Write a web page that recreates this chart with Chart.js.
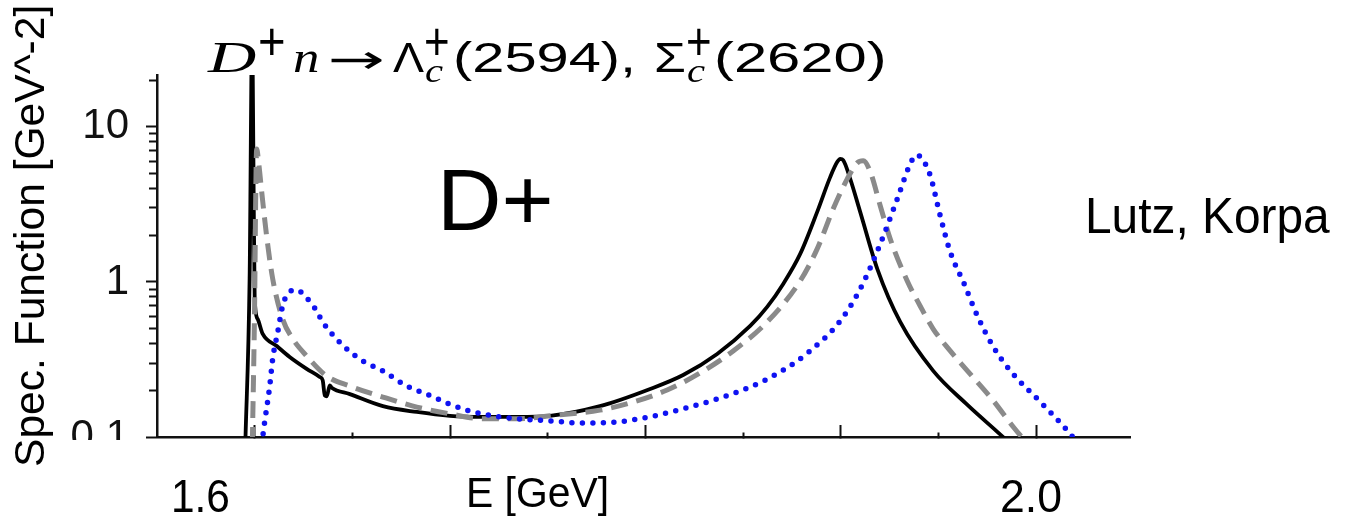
<!DOCTYPE html>
<html><head><meta charset="utf-8">
<script src="https://cdn.jsdelivr.net/npm/chart.js@4"></script>
<style>
html,body{margin:0;padding:0;background:#fff;}
#wrap{position:relative;width:1347px;height:516px;overflow:hidden;background:#fff;}
canvas{position:absolute;left:0;top:0;}
.t{position:absolute;white-space:nowrap;color:#000;font-family:"Liberation Sans",Arial,sans-serif;line-height:1;transform-origin:0 0;}
.mi{font-family:"Liberation Serif","Times New Roman",serif;font-style:italic;}
.ar{font-family:"DejaVu Sans",sans-serif;}
#cover{position:absolute;left:58px;top:440px;width:95px;height:40px;background:#fff;}
</style></head>
<body><div id="wrap"><canvas id="c" width="1347" height="516"></canvas>
<div id="cover"></div>
<div class="t" id="ytitle" style="font-size:42px;">Spec. Function [GeV^-2]</div>
<!-- title: D^+ n -> Lambda_c^+(2594), Sigma_c^+(2620) -->
<span class="t mi" id="tD" style="font-size:45px;">D</span>
<span class="t" id="tP1" style="font-size:54px;">+</span>
<span class="t mi" id="tN" style="font-size:45px;">n</span>
<span class="t ar" id="tAr" style="font-size:40px;">→</span>
<span class="t" id="tL" style="font-size:42px;">Λ</span>
<span class="t" id="tP2" style="font-size:54px;">+</span>
<span class="t mi" id="tC1" style="font-size:34px;">c</span>
<span class="t" id="tM1" style="font-size:42px;">(2594),</span>
<span class="t" id="tS" style="font-size:42px;">Σ</span>
<span class="t" id="tP3" style="font-size:54px;">+</span>
<span class="t mi" id="tC2" style="font-size:34px;">c</span>
<span class="t" id="tM2" style="font-size:42px;">(2620)</span>
<div class="t" id="dplus" style="font-size:87px;">D+</div>
<div class="t" id="authors" style="font-size:50px;">Lutz, Korpa</div>
<div class="t" id="xtitle" style="font-size:42px;">E [GeV]</div>
<div class="t" id="xl16" style="font-size:46px;">1.6</div>
<div class="t" id="xl20" style="font-size:46px;">2.0</div>
</div>
<script>
// ---- data (E in GeV, spectral function in GeV^-2) ----
const E_SOLID = [1.5952,1.5974,1.5987,1.5990,1.5995,1.6000,1.6015,1.6041,1.6113,1.6179,1.6266,1.6333,1.6348,1.6359,1.6369,1.6384,1.6394,1.6487,1.6656,1.6830,1.6999,1.7168,1.7342,1.7511,1.7767,1.8024,1.8193,1.8367,1.8536,1.8623,1.8705,1.8792,1.8879,1.8946,1.8982,1.8997,1.9012,1.9048,1.9099,1.9187,1.9304,1.9473,1.9648,1.9801,2.0000];
const A_SOLID = [0.09,1.05,40,22,3.4,0.78,0.577,0.462,0.386,0.328,0.275,0.244,0.232,0.185,0.183,0.215,0.208,0.189,0.158,0.145,0.137,0.135,0.135,0.137,0.158,0.204,0.251,0.343,0.520,0.690,0.971,1.516,2.83,4.76,5.95,6.22,6.1,4.62,2.83,1.21,0.552,0.267,0.161,0.108,0.064];

const E_DASH = [1.5988,1.6000,1.6005,1.6010,1.6021,1.6036,1.6061,1.6092,1.6143,1.6195,1.6266,1.6369,1.6487,1.6656,1.6830,1.6999,1.7168,1.7342,1.7511,1.7767,1.7936,1.8111,1.8280,1.8449,1.8623,1.8792,1.8879,1.8961,1.9033,1.9084,1.9115,1.9151,1.9202,1.9253,1.9340,1.9406,1.9473,1.9560,1.9648,1.9781,1.9883,2.0100];
const A_DASH = [0.09,0.78,3.4,7.2,5.77,3.8,1.98,1.05,0.577,0.429,0.333,0.247,0.213,0.181,0.156,0.141,0.131,0.131,0.137,0.149,0.168,0.201,0.259,0.359,0.552,1.015,1.633,2.96,4.62,5.86,6.04,5.12,3.09,1.89,1.015,0.700,0.497,0.359,0.267,0.171,0.116,0.056];

const E_DOT = [1.6036,1.6041,1.6051,1.6077,1.6092,1.6118,1.6143,1.6169,1.6215,1.6266,1.6307,1.6348,1.6400,1.6471,1.6553,1.6656,1.6779,1.6881,1.6999,1.7100,1.7218,1.7342,1.7511,1.7680,1.7854,1.8024,1.8193,1.8367,1.8536,1.8690,1.8843,1.8997,1.9099,1.9202,1.9289,1.9355,1.9386,1.9417,1.9458,1.9509,1.9560,1.9627,1.9699,1.9781,1.9868,2.0032,2.0165,2.0300];
const A_DOT = [0.09,0.1,0.125,0.213,0.318,0.476,0.700,0.837,0.888,0.788,0.680,0.552,0.455,0.370,0.309,0.267,0.213,0.189,0.163,0.147,0.137,0.131,0.127,0.123,0.125,0.135,0.152,0.176,0.210,0.263,0.359,0.560,0.90,1.76,3.43,5.77,6.6,6.22,4.83,2.66,1.56,1.0,0.604,0.381,0.267,0.163,0.108,0.066];

const X_TICKS = [1.60,1.65,1.70,1.75,1.80,1.85,1.90,1.95,2.00];
const X_MAJOR = [1.60,1.70,1.80,1.90,2.00];
const Y_TICKS = [0.1,0.2,0.3,0.4,0.5,0.6,0.7,0.8,0.9,1,2,3,4,5,6,7,8,9,10,20];
const Y_LABELS = [0.1,1,10];

// ---- layout / style ----
const X_MIN = 1.55, X_MAX = 2.048, Y_MIN = 0.1, Y_MAX = 21.6;
const FONT = '"Liberation Sans", Arial, sans-serif';
const near = (a, list) => list.some(t => Math.abs(a - t) / Math.abs(t) < 1e-6);
const pts = (xs, ys) => xs.map((x, i) => ({x: x, y: ys[i]}));

new Chart(document.getElementById('c').getContext('2d'), {
  type: 'line',
  data: {
    datasets: [
      {label: 'dotted', data: pts(E_DOT, A_DOT), borderColor: '#0f12f2', borderWidth: 5.5,
       borderDash: [0, 10.5], borderCapStyle: 'round', pointRadius: 0, cubicInterpolationMode: 'monotone', fill: false},
      {label: 'dashed', data: pts(E_DASH, A_DASH), borderColor: '#8a8a8a', borderWidth: 5,
       borderDash: [17, 9], pointRadius: 0, cubicInterpolationMode: 'monotone', fill: false},
      {label: 'solid', data: pts(E_SOLID, A_SOLID), borderColor: '#000', borderWidth: 3.8,
       pointRadius: 0, cubicInterpolationMode: 'monotone', fill: false}
    ]
  },
  options: {
    responsive: false, animation: false, devicePixelRatio: 1,
    layout: {padding: {left: 0, top: 75, right: 217, bottom: 0}},
    plugins: {legend: {display: false}, tooltip: {enabled: false}, title: {display: false}},
    scales: {
      x: {
        type: 'linear', min: X_MIN, max: X_MAX,
        afterBuildTicks: s => { s.ticks = X_TICKS.map(v => ({value: v})); },
        afterFit: s => { s.height = 79; },
        ticks: {display: false},
        grid: {display: true, drawOnChartArea: false, drawTicks: true, tickLength: -12, tickWidth: 2, tickColor: '#111',
               tickBorderDash: c => (c.tick && near(c.tick.value, X_MAJOR)) ? [] : [6, 100]},
        border: {display: true, color: '#111', width: 2.5}
      },
      y: {
        type: 'logarithmic', min: Y_MIN, max: Y_MAX,
        afterBuildTicks: s => { s.ticks = Y_TICKS.map(v => ({value: v})); },
        afterFit: s => { s.width = 157; },
        ticks: {autoSkip: false, padding: 17, color: '#111', font: {family: FONT, size: 42},
                callback: v => near(v, Y_LABELS) ? String(v) : ''},
        grid: {display: true, drawOnChartArea: false, drawTicks: true, tickLength: 11, tickWidth: 2, tickColor: '#111',
               tickBorderDash: c => (c.tick && near(c.tick.value, Y_LABELS)) ? [] : [0, 3, 8, 100]},
        border: {display: true, color: '#111', width: 2.5}
      }
    }
  }
});

// ---- free text placement (layout only): left, baseline, target width ----
function base(id, left, baseline, width, rot) {
  const el = document.getElementById(id);
  const fs = parseFloat(el.style.fontSize);
  const w = el.offsetWidth;
  const k = el.classList.contains('mi') ? 0.8375 : 0.846;
  el.style.left = left + 'px';
  el.style.top = (rot ? baseline : baseline - k * fs) + 'px';
  el.style.transform = (rot ? 'rotate(-90deg) ' : '') + 'scaleX(' + (width / w) + ')';
}
base('ytitle', 9, 467, 462, true);
base('tD', 208, 73, 49);
base('tP1', 258, 60, 28);
base('tN', 293, 73, 27);
base('tAr', 328, 73, 58);
base('tL', 393, 73, 31);
base('tP2', 424, 60, 26);
base('tC1', 425, 82, 18);
base('tM1', 453, 73, 183);
base('tS', 654, 73, 32);
base('tP3', 686, 60, 26);
base('tC2', 687, 82, 18);
base('tM2', 714, 73, 172);
base('dplus', 437, 230, 117);
base('authors', 1085, 233, 245);
base('xtitle', 466, 508, 143);
base('xl16', 171, 512, 59);
base('xl20', 1000, 512, 62);
</script>
</body></html>
